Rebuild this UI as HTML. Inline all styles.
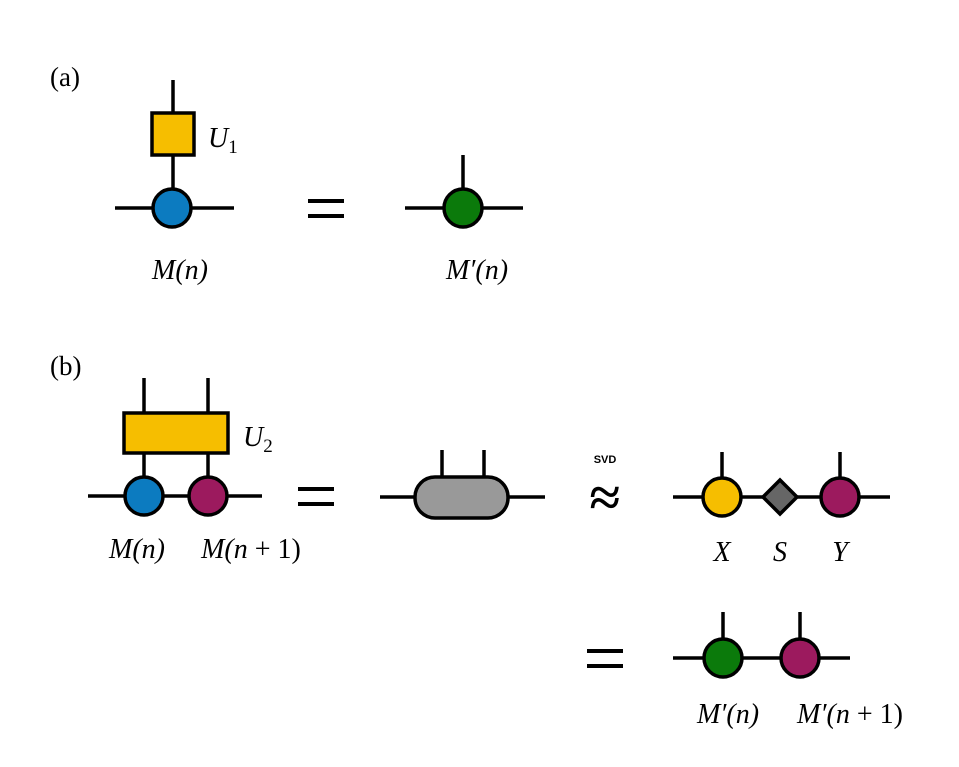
<!DOCTYPE html>
<html><head><meta charset="utf-8"><style>
html,body{margin:0;padding:0;background:#fff;}
svg{display:block;}
text{font-family:"Liberation Serif",serif;fill:#000;}
.m{font-style:italic;font-size:28px;}
.ln{stroke:#000;stroke-width:3.5;fill:none;}
.sh{stroke:#000;stroke-width:3.5;}
</style></head><body>
<svg width="959" height="767" viewBox="0 0 959 767">
<text x="50" y="86" font-size="27">(a)</text>
<g>
<line class="ln" x1="173" y1="80" x2="173" y2="112"/>
<line class="ln" x1="173" y1="155" x2="173" y2="190"/>
<line class="ln" x1="115" y1="208" x2="234" y2="208"/>
<rect class="sh" x="152" y="113" width="42" height="42" fill="#F6BE00"/>
<circle class="sh" cx="172" cy="208" r="19" fill="#0C7BC0"/>
<text class="m" x="208" y="147">U<tspan font-size="19" font-style="normal" dy="6">1</tspan></text>
<text class="m" x="180" y="279" text-anchor="middle">M(n)</text>
</g>
<g>
<rect x="308" y="199" width="36" height="4" fill="#000"/><rect x="308" y="214" width="36" height="4" fill="#000"/>
</g>
<g>
<line class="ln" x1="463" y1="155" x2="463" y2="190"/>
<line class="ln" x1="405" y1="208" x2="523" y2="208"/>
<circle class="sh" cx="463" cy="208" r="19" fill="#0B7A0B"/>
<text class="m" x="477" y="279" text-anchor="middle">M′(n)</text>
</g>
<text x="50" y="375" font-size="27">(b)</text>
<g>
<line class="ln" x1="144" y1="378" x2="144" y2="413"/>
<line class="ln" x1="208" y1="378" x2="208" y2="413"/>
<line class="ln" x1="144" y1="453" x2="144" y2="478"/>
<line class="ln" x1="208" y1="453" x2="208" y2="478"/>
<line class="ln" x1="88" y1="496" x2="262" y2="496"/>
<rect class="sh" x="124" y="413" width="104" height="40" fill="#F6BE00"/>
<circle class="sh" cx="144" cy="496" r="19" fill="#0C7BC0"/>
<circle class="sh" cx="208" cy="496" r="19" fill="#9C1A5E"/>
<text class="m" x="243" y="446">U<tspan font-size="19" font-style="normal" dy="6">2</tspan></text>
<text class="m" x="137" y="558" text-anchor="middle">M(n)</text>
<text class="m" x="251" y="558" text-anchor="middle">M(n<tspan font-style="normal"> + 1)</tspan></text>
</g>
<g>
<rect x="298" y="487" width="36" height="4" fill="#000"/><rect x="298" y="502" width="36" height="4" fill="#000"/>
</g>
<g>
<line class="ln" x1="442" y1="450" x2="442" y2="477"/>
<line class="ln" x1="484" y1="450" x2="484" y2="477"/>
<line class="ln" x1="380" y1="497" x2="545" y2="497"/>
<rect class="sh" x="415" y="477" width="93" height="41" rx="20" fill="#999"/>
</g>
<text x="605" y="463" font-size="11" font-weight="bold" text-anchor="middle" style="font-family:'Liberation Sans',sans-serif">SVD</text>
<text x="605" y="516" font-size="56" text-anchor="middle" stroke="#000" stroke-width="0.8">≈</text>
<g>
<line class="ln" x1="722" y1="452" x2="722" y2="478"/>
<line class="ln" x1="840" y1="452" x2="840" y2="478"/>
<line class="ln" x1="673" y1="497" x2="890" y2="497"/>
<circle class="sh" cx="722" cy="497" r="19" fill="#F6BE00"/>
<polygon class="sh" points="780,480 797,497 780,514 763,497" fill="#666"/>
<circle class="sh" cx="840" cy="497" r="19" fill="#9C1A5E"/>
<text class="m" x="722" y="561" text-anchor="middle">X</text>
<text class="m" x="780" y="561" text-anchor="middle">S</text>
<text class="m" x="840" y="561" text-anchor="middle">Y</text>
</g>
<g>
<rect x="587" y="649" width="36" height="4" fill="#000"/><rect x="587" y="664" width="36" height="4" fill="#000"/>
</g>
<g>
<line class="ln" x1="723" y1="612" x2="723" y2="640"/>
<line class="ln" x1="800" y1="612" x2="800" y2="640"/>
<line class="ln" x1="673" y1="658" x2="850" y2="658"/>
<circle class="sh" cx="723" cy="658" r="19" fill="#0B7A0B"/>
<circle class="sh" cx="800" cy="658" r="19" fill="#9C1A5E"/>
<text class="m" x="728" y="723" text-anchor="middle">M′(n)</text>
<text class="m" x="850" y="723" text-anchor="middle">M′(n<tspan font-style="normal"> + 1)</tspan></text>
</g>
</svg>
</body></html>
